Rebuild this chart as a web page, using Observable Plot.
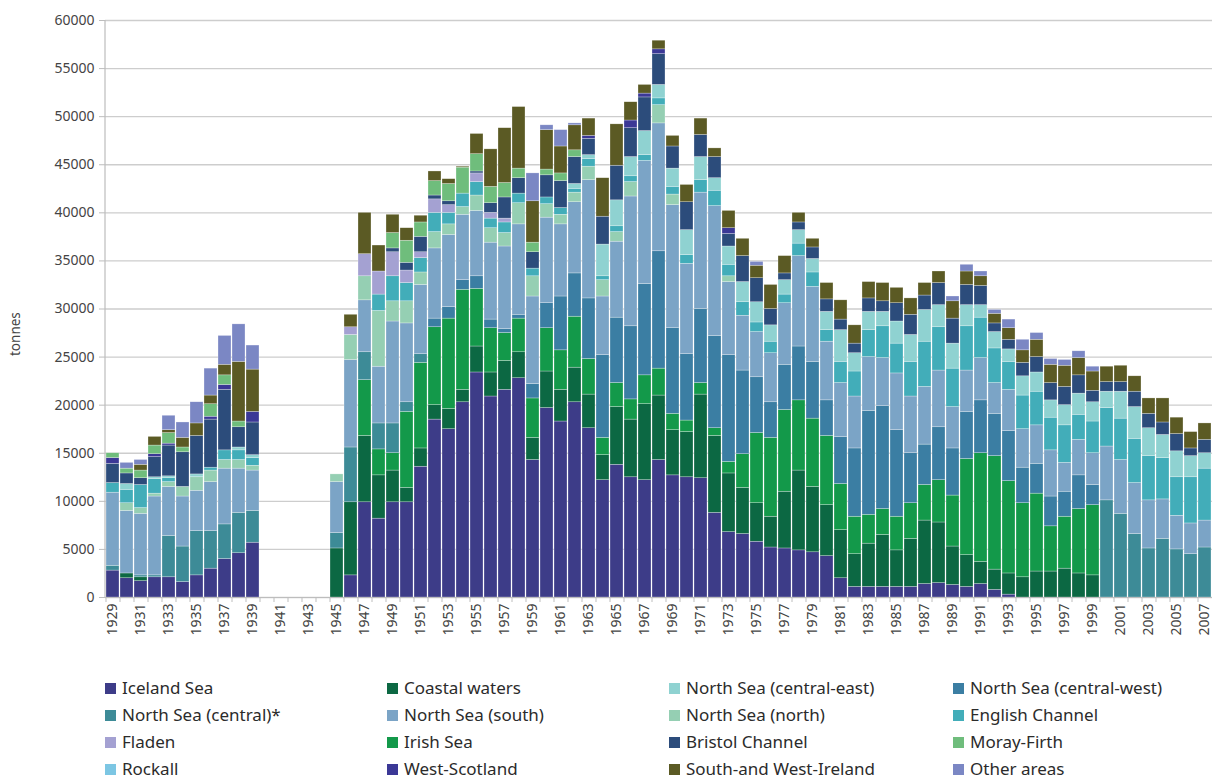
<!DOCTYPE html>
<html>
<head>
<meta charset="utf-8">
<script src="https://cdn.jsdelivr.net/npm/d3@7"></script>
<script src="https://cdn.jsdelivr.net/npm/@observablehq/plot@0.6"></script>
<style>
  html, body { margin: 0; padding: 0; background: #ffffff; overflow: hidden; }
  #chart svg { display: block; }
  #legend { position: relative; width: 1214px; height: 130px; font-family: "Noto Sans", sans-serif; font-size: 17px; color: #2b2b2b; }
  .item { position: absolute; height: 24px; line-height: 24px; white-space: nowrap; }
  .sw { display: inline-block; width: 11px; height: 11px; margin-right: 6px; vertical-align: 0px; }
</style>
</head>
<body>
<div id="chart"></div>
<div id="legend"></div>
<script>
// ---- categories ----
const years = [1929,1930,1931,1932,1933,1934,1935,1936,1937,1938,1939,
  1940,1941,1942,1943,1944,
  1945,1946,1947,1948,1949,1950,1951,1952,1953,1954,
  1955,1956,1957,1958,1959,1960,1961,1962,1963,1964,
  1965,1966,1967,1968,1969,1970,1971,1972,1973,1974,
  1975,1976,1977,1978,1979,1980,1981,1982,1983,1984,
  1985,1986,1987,1988,1989,1990,1991,1992,1993,1994,
  1995,1996,1997,1998,1999,2000,2001,2002,2003,2004,
  2005,2006,2007];
const labelYears = [1929,1931,1933,1935,1937,1939,1941,1943,1945,1947,1949,1951,1953,1955,1957,1959,1961,1963,1965,1967,1969,1971,1973,1975,1977,1979,1981,1983,1985,1987,1989,1991,1993,1995,1997,1999,2001,2003,2005,2007];
const yTicks = [0,5000,10000,15000,20000,25000,30000,35000,40000,45000,50000,55000,60000];
const N = null;

// ---- series values (tonnes), 1929..2007; null = no data (1940-1944) ----
const icelandSea = [2800,2000,1700,2100,2100,1600,2300,3000,4000,4600,5700, N,N,N,N,N,
  0,2300,9900,8200,9900,9900,13600,18500,17500,20300,
  23400,20900,21600,22800,14300,19700,18300,20300,17600,12200,
  13800,12500,12200,14300,12700,12500,12400,8800,6800,6600,
  5800,5200,5100,4900,4700,4300,2000,1100,1100,1100,
  1100,1100,1400,1500,1300,1100,1400,800,300,0,
  0,0,0,0,0,0,0,0,0,0, 0,0,0];
const coastalWaters = [0,500,400,0,0,0,0,0,0,0,0, N,N,N,N,N,
  5100,7600,6900,4500,3300,1500,1900,1500,2100,1300,
  2700,2500,3000,2700,2300,3800,3300,3600,3500,2600,
  6000,6000,7900,6700,4700,4700,8700,8000,6100,4800,
  4000,3200,5900,8300,6800,5300,5000,3400,4500,5400,
  3800,5000,6600,6300,4000,3300,2300,2100,2200,2100,
  2700,2700,3000,2500,2300,0,0,0,0,0, 0,0,0];
const irishSea = [0,0,0,0,0,0,0,0,0,0,0, N,N,N,N,N,
  0,0,5800,2700,1800,7900,8900,8100,9400,10400,
  6000,4600,2900,3500,4100,4500,4100,5300,3700,1800,
  2500,2100,3000,2800,1700,1200,1200,800,1200,3500,
  7300,8200,8500,7300,7100,7200,4800,3900,3000,2700,
  3500,3700,3700,4400,5300,10000,11300,11800,9600,7700,
  8100,4700,5400,6700,7300,0,0,0,0,0, 0,0,0];
const northSeaCentral = [500,0,200,200,4300,3700,4600,3900,3600,4200,3300, N,N,N,N,N,
  1600,5700,2900,2700,3100,1000,900,0,0,0,
  0,0,0,0,0,0,0,0,0,0,
  0,0,0,0,0,0,0,0,0,0,
  0,0,0,0,0,0,0,0,0,0,
  0,0,0,0,0,0,0,0,0,0,
  0,0,0,0,0,10100,8700,6600,5100,6100, 5000,4500,5200];
const northSeaCentralWest = [0,0,0,0,0,0,0,0,0,0,0, N,N,N,N,N,
  0,0,0,0,0,0,0,900,1200,1000,
  1300,900,400,400,1500,2600,5600,4500,6300,8600,
  6800,7600,9500,12200,8900,6900,7700,9600,11100,8700,
  5800,3700,4700,5600,5900,3700,4900,7100,10800,10700,
  9000,5200,4200,5500,4900,4900,5500,4400,5200,3700,
  3100,3100,2600,3500,2100,0,0,0,0,0, 0,0,0];
const northSeaSouth = [7600,6500,6400,8200,5100,5200,4200,5100,5800,4600,4200, N,N,N,N,N,
  5300,9100,5400,5900,10600,8200,7200,7300,7500,6800,
  6800,8000,8600,9400,9100,8900,7500,7400,12300,6100,
  7900,13500,12800,13300,12800,9400,12100,13500,7600,5700,
  4700,5100,6400,9400,7800,6100,5600,5400,5600,5000,
  5900,5900,6000,5900,4300,4300,4400,3200,4300,4000,
  4000,4800,3000,3700,3300,5600,5600,5300,5000,4100, 3500,3200,2800];
const northSeaNorth = [0,800,600,300,500,1000,1400,1200,900,900,500, N,N,N,N,N,
  800,2600,2500,5800,2100,2300,1300,1700,1100,800,
  1600,1500,1400,2200,2100,1400,1000,1000,1400,1700,
  1000,1500,0,1900,1100,0,0,0,600,0,
  0,0,0,0,0,0,0,0,0,0,
  0,0,0,0,0,0,0,0,0,0,
  0,0,0,0,0,0,0,0,0,0, 0,0,0];
const englishChannel = [1000,1400,2400,1500,400,0,0,300,1000,1000,800, N,N,N,N,N,
  0,0,0,1700,2600,1900,1500,2000,1200,1400,
  1400,1000,1100,1000,800,700,700,400,800,400,
  600,600,600,700,800,900,1300,1600,1200,1400,
  1000,1200,900,1300,1500,1200,2200,2600,2800,3300,
  3100,3600,4700,4500,4000,4600,4200,3600,2900,3500,
  3500,3400,3900,2600,3300,4000,4300,4600,4600,4300, 4000,4800,5400];
const northSeaCentralEast = [0,600,0,200,200,0,300,0,0,300,300, N,N,N,N,N,
  0,0,0,0,0,0,0,0,0,0,
  0,0,0,0,0,0,0,500,400,3300,
  2700,2000,2500,1400,1900,2600,2400,1300,1900,2100,
  2100,1700,1500,1400,1400,1900,3300,1900,1900,1500,
  2300,2800,3300,2300,2600,2200,1300,1700,1300,2000,
  2000,1800,2100,2200,2000,1700,2800,3300,2900,2400, 2700,2200,1600];
const rockall = [0,0,0,0,0,0,0,0,0,0,0, N,N,N,N,N,
  0,0,0,0,0,0,0,0,0,0,
  0,0,0,0,0,0,0,0,0,0,
  0,0,0,0,0,0,0,0,0,0,
  0,0,0,0,0,0,0,0,0,0,
  0,0,0,0,0,0,0,0,0,0,
  0,0,0,0,0,0,0,0,0,0, 0,0,0];
const fladen = [0,0,0,0,0,0,0,0,0,0,0, N,N,N,N,N,
  0,800,2300,2400,2500,1300,600,1400,800,0,
  900,600,400,0,0,0,0,0,0,0,
  0,0,0,0,0,0,0,0,0,0,
  0,0,0,0,0,0,0,0,0,0,
  0,0,0,0,0,0,0,0,0,0,
  0,0,0,0,0,0,0,0,0,0, 0,0,0];
const bristolChannel = [2000,1100,700,2100,3200,3600,4000,5000,6300,2100,3400, N,N,N,N,N,
  0,0,0,0,400,800,1600,400,400,0,
  200,1000,2200,1600,1700,2300,2800,2800,1700,2900,
  3600,3000,3500,3200,2300,2900,2300,2200,1300,2700,
  2500,1700,700,800,1200,1300,1100,1000,1400,1100,
  1900,2100,1500,2300,2600,2100,2000,900,1000,1400,
  1600,1800,1900,1900,1200,1000,1000,1600,1500,1300, 1800,800,1400];
const westScotland = [600,0,0,300,200,0,0,300,500,0,1100, N,N,N,N,N,
  0,0,0,0,0,0,0,0,0,0,
  0,0,0,0,0,0,0,0,300,0,
  0,800,400,500,0,0,0,0,600,0,
  0,0,0,0,0,0,0,0,0,0,
  0,0,0,0,0,0,0,0,0,0,
  0,0,0,0,0,0,0,0,0,0, 0,0,0];
const morayFirth = [500,500,800,900,1100,500,0,1300,1000,600,0, N,N,N,N,N,
  0,0,0,0,1600,2300,1500,1500,1800,2700,
  1800,1700,1500,1000,1000,600,800,700,0,0,
  0,0,0,0,0,0,0,0,0,0,
  0,0,0,0,0,0,0,0,0,0,
  0,0,0,0,0,0,0,0,0,0,
  0,0,0,0,0,0,0,0,0,0, 0,0,0];
const southWestIreland = [0,0,600,900,300,1000,1300,900,1100,6200,4400, N,N,N,N,N,
  0,1300,4300,2700,1900,1300,700,1000,500,100,
  2100,3900,5700,6400,4300,4100,2800,2600,1800,4000,
  4300,1900,900,900,1100,1800,1700,900,1800,1800,
  1300,2500,1800,1000,900,1700,2000,1900,1700,1900,
  1600,1700,1300,1200,1800,1400,1000,1000,1200,1300,
  1800,1900,2200,1800,2000,1600,1700,1600,1600,2500, 1700,1700,1700];
const otherAreas = [0,600,500,0,1500,1600,2200,2800,3000,3900,2500, N,N,N,N,N,
  0,0,0,0,0,0,0,0,0,0,
  0,0,0,0,2900,500,1700,200,0,0,
  0,0,0,0,0,0,0,0,0,0,
  400,0,0,0,0,0,0,0,0,0,
  0,0,0,0,500,700,500,400,900,1100,
  700,600,600,700,500,0,0,0,0,0, 0,0,0];

// ---- series names / colours (legend order) ----
const legendNames = ["Iceland Sea","Coastal waters","North Sea (central-east)","North Sea (central-west)",
  "North Sea (central)*","North Sea (south)","North Sea (north)","English Channel",
  "Fladen","Irish Sea","Bristol Channel","Moray-Firth",
  "Rockall","West-Scotland","South-and West-Ireland","Other areas"];
const legendColors = ["#3d3c88","#0c6843","#8fd2d1","#3b7ea3",
  "#3d8b97","#7ba4c6","#95cfb3","#42adb9",
  "#a4a1d2","#13994a","#2c4c7b","#6fbd7c",
  "#7cc6e3","#3b3896","#5b5a24","#7b87c4"];

// stacking order, bottom to top
const stackSeries = [
  ["Iceland Sea", icelandSea],
  ["Coastal waters", coastalWaters],
  ["Irish Sea", irishSea],
  ["North Sea (central)*", northSeaCentral],
  ["North Sea (central-west)", northSeaCentralWest],
  ["North Sea (south)", northSeaSouth],
  ["North Sea (north)", northSeaNorth],
  ["English Channel", englishChannel],
  ["North Sea (central-east)", northSeaCentralEast],
  ["Rockall", rockall],
  ["Fladen", fladen],
  ["Bristol Channel", bristolChannel],
  ["West-Scotland", westScotland],
  ["Moray-Firth", morayFirth],
  ["South-and West-Ireland", southWestIreland],
  ["Other areas", otherAreas]
];

const tidy = [];
for (const [name, vals] of stackSeries) {
  years.forEach((yr, i) => {
    const v = vals[i];
    if (v != null && v > 0) tidy.push({year: yr, series: name, value: v});
  });
}

const W = 1214, H = 652;
const leftLine = (index, scales, values, dims) => {
  const g = d3.create("svg:line")
    .attr("x1", dims.marginLeft).attr("x2", dims.marginLeft)
    .attr("y1", dims.marginTop).attr("y2", dims.height - dims.marginBottom)
    .attr("stroke", "#bdbdbd").attr("stroke-width", 1.2);
  return g.node();
};

const chart = Plot.plot({
  width: W, height: H,
  marginLeft: 105, marginRight: 2, marginTop: 20, marginBottom: H - 597,
  style: {fontFamily: "'Noto Sans', sans-serif", fontSize: "13px", color: "#444", background: "#ffffff"},
  x: {type: "band", domain: years, paddingInner: 0.06, paddingOuter: 0.03, label: null},
  y: {domain: [0, 60000], label: null},
  color: {domain: legendNames, range: legendColors},
  marks: [
    Plot.gridY(yTicks, {stroke: "#cdcdcd", strokeOpacity: 1, strokeWidth: 1.3}),
    Plot.barY(tidy, {x: "year", y: "value", fill: "series", stroke: "#ffffff", strokeWidth: 0.5, strokeOpacity: 0.55}),
    Plot.ruleY([0], {stroke: "#bdbdbd", strokeWidth: 1.2}),
    leftLine,
    Plot.axisY(yTicks, {tickFormat: d => String(d), tickSize: 6, tickPadding: 5, stroke: "#bdbdbd", fill: "#444", fontSize: 14, label: null}),
    Plot.axisX(years, {tickFormat: () => "", tickSize: 5, stroke: "#bdbdbd", dx: -7, label: null}),
    Plot.axisX(labelYears, {tickFormat: d => String(d), tickSize: 0, tickPadding: 6, tickRotate: -90, fill: "#444", fontSize: 14, label: null}),
    Plot.text(["tonnes"], {frameAnchor: "left", dx: -90, dy: 47, rotate: -90, fill: "#444", fontSize: 13.5})
  ]
});
document.getElementById("chart").appendChild(chart);

// ---- legend below the chart ----
const colX = [105, 387, 669, 953];
const rowY = [688, 715, 742, 769];
const legend = document.getElementById("legend");
legendNames.forEach((name, i) => {
  const r = Math.floor(i / 4), c = i % 4;
  const item = document.createElement("div");
  item.className = "item";
  item.style.left = colX[c] + "px";
  item.style.top = (rowY[r] - H - 12) + "px";
  const sw = document.createElement("span");
  sw.className = "sw";
  sw.style.background = legendColors[i];
  item.appendChild(sw);
  item.appendChild(document.createTextNode(name));
  legend.appendChild(item);
});
</script>
</body>
</html>
